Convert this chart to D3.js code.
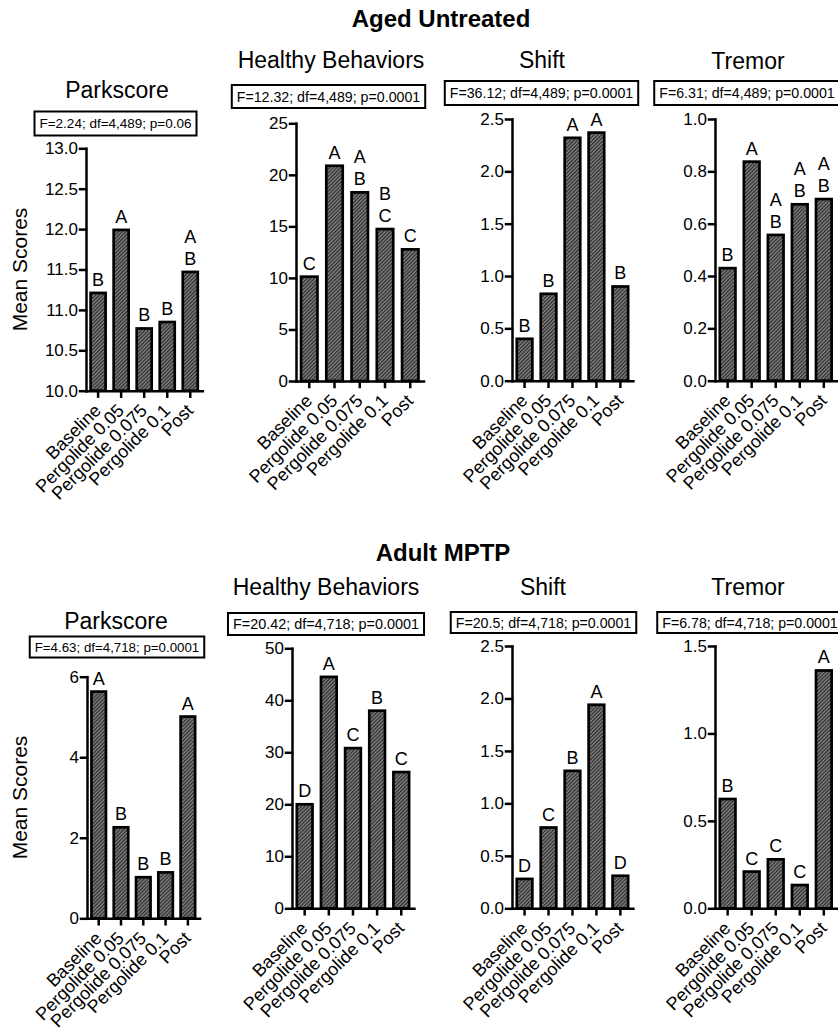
<!DOCTYPE html>
<html>
<head>
<meta charset="utf-8">
<script src="https://cdn.jsdelivr.net/npm/d3@7"></script>
<style>
  body { margin: 0; background: #fff; }
  svg { display: block; font-family: "Liberation Sans", Arial, Helvetica, sans-serif; }
  .axis path, .axis line { stroke: #000; stroke-width: 2.5; stroke-linecap: square; }
  .axis text { fill: #000; }
</style>
</head>
<body>
<svg width="838" height="1032"></svg>
<script>
// categories shared by all eight panels
var categories = ["Baseline", "Pergolide 0.05", "Pergolide 0.075", "Pergolide 0.1", "Post"];

// Aged Untreated, values
var agedParkscore = [11.21, 11.99, 10.77, 10.85, 11.47];
var agedHealthy   = [10.12, 20.88, 18.30, 14.74, 12.77];
var agedShift     = [0.40, 0.83, 2.32, 2.37, 0.90];
var agedTremor    = [0.43, 0.837, 0.557, 0.674, 0.694];

// Adult MPTP
var mptpParkscore = [5.63, 2.26, 1.02, 1.14, 5.01];
var mptpHealthy   = [20.0, 44.5, 30.8, 38.0, 26.2];
var mptpShift     = [0.28, 0.77, 1.31, 1.94, 0.31];
var mptpTremor    = [0.625, 0.21, 0.28, 0.133, 1.36];

// significance letters (top to bottom)
var agedParkLetters    = ["B", "A", "B", "B", "AB"];
var agedHealthyLetters = ["C", "A", "AB", "BC", "C"];
var agedShiftLetters   = ["B", "B", "A", "A", "B"];
var agedTremorLetters  = ["B", "A", "AB", "AB", "AB"];
var mptpParkLetters    = ["A", "B", "B", "B", "A"];
var mptpHealthyLetters = ["D", "A", "C", "B", "C"];
var mptpShiftLetters   = ["D", "C", "B", "A", "D"];
var mptpTremorLetters  = ["B", "C", "C", "C", "A"];

// tick values
var agedParkTicks    = [10.0, 10.5, 11.0, 11.5, 12.0, 12.5, 13.0];
var agedHealthyTicks = [0, 5, 10, 15, 20, 25];
var shiftTicks       = [0, 0.5, 1.0, 1.5, 2.0, 2.5];
var agedTremorTicks  = [0, 0.2, 0.4, 0.6, 0.8, 1.0];
var mptpParkTicks    = [0, 2, 4, 6];
var mptpHealthyTicks = [0, 10, 20, 30, 40, 50];
var mptpTremorTicks  = [0, 0.5, 1.0, 1.5];

// ANOVA strings
var agedStats = ["F=2.24; df=4,489; p=0.06", "F=12.32; df=4,489; p=0.0001",
                 "F=36.12; df=4,489; p=0.0001", "F=6.31; df=4,489; p=0.0001"];
var mptpStats = ["F=4.63; df=4,718; p=0.0001", "F=20.42; df=4,718; p=0.0001",
                 "F=20.5; df=4,718; p=0.0001", "F=6.78; df=4,718; p=0.0001"];

var groupTitles = ["Aged Untreated", "Adult MPTP"];
var panelTitles = ["Parkscore", "Healthy Behaviors", "Shift", "Tremor"];

var svg = d3.select("svg");

var defs = svg.append("defs");
var pat = defs.append("pattern")
    .attr("id", "hatch")
    .attr("patternUnits", "userSpaceOnUse")
    .attr("width", 2.6)
    .attr("height", 2.6)
    .attr("patternTransform", "rotate(45)");
pat.append("rect").attr("width", 2.6).attr("height", 2.6).attr("fill", "#858585");
pat.append("line").attr("x1", 0.6).attr("y1", 0).attr("x2", 0.6).attr("y2", 2.6)
    .attr("stroke", "#2a2a2a").attr("stroke-width", 1.3);

// layout of each panel
var panels = [
  {title: 0, stat: agedStats[0], values: agedParkscore, letters: agedParkLetters, ticks: agedParkTicks, domain: [10, 13], fmt: ".1f",
   x0: 86, step: 23, yTop: 148.3, yBot: 390.7, tx: 117, ty: 98, bx: 115.5, by: 111.5, bh: 24, fs: 13.5, ylabel: true},
  {title: 1, stat: agedStats[1], values: agedHealthy, letters: agedHealthyLetters, ticks: agedHealthyTicks, domain: [0, 25], fmt: "d",
   x0: 296, step: 25.2, yTop: 123.3, yBot: 381, tx: 331, ty: 68, bx: 328.5, by: 85, bh: 23, fs: 14.2},
  {title: 2, stat: agedStats[2], values: agedShift, letters: agedShiftLetters, ticks: shiftTicks, domain: [0, 2.5], fmt: ".1f",
   x0: 512, step: 23.9, yTop: 119, yBot: 380.7, tx: 542, ty: 68, bx: 541.5, by: 81, bh: 24, fs: 14.2},
  {title: 3, stat: agedStats[3], values: agedTremor, letters: agedTremorLetters, ticks: agedTremorTicks, domain: [0, 1], fmt: ".1f",
   x0: 715, step: 24, yTop: 119, yBot: 380.7, tx: 748, ty: 69, bx: 747, by: 81, bh: 24, fs: 14.2},
  {title: 0, stat: mptpStats[0], values: mptpParkscore, letters: mptpParkLetters, ticks: mptpParkTicks, domain: [0, 6], fmt: "d",
   x0: 87, step: 22.25, yTop: 676.7, yBot: 918.3, tx: 116, ty: 629, bx: 117, by: 636.5, bh: 21, fs: 13.3, ylabel: true},
  {title: 1, stat: mptpStats[1], values: mptpHealthy, letters: mptpHealthyLetters, ticks: mptpHealthyTicks, domain: [0, 50], fmt: "d",
   x0: 292, step: 24.1, yTop: 648.3, yBot: 908.3, tx: 326, ty: 595, bx: 326, by: 613, bh: 22, fs: 14.4},
  {title: 2, stat: mptpStats[2], values: mptpShift, letters: mptpShiftLetters, ticks: shiftTicks, domain: [0, 2.5], fmt: ".1f",
   x0: 512, step: 23.9, yTop: 646, yBot: 908.3, tx: 543, ty: 595, bx: 543.5, by: 612, bh: 21, fs: 14.2},
  {title: 3, stat: mptpStats[3], values: mptpTremor, letters: mptpTremorLetters, ticks: mptpTremorTicks, domain: [0, 1.5], fmt: ".1f",
   x0: 715, step: 24, yTop: 646, yBot: 908.3, tx: 748, ty: 595, bx: 750, by: 612, bh: 21, fs: 14.2}
];

// group headings
svg.append("text").attr("x", 441).attr("y", 27).attr("text-anchor", "middle")
    .attr("font-size", 24).attr("font-weight", "bold").text(groupTitles[0]);
svg.append("text").attr("x", 443).attr("y", 561).attr("text-anchor", "middle")
    .attr("font-size", 24).attr("font-weight", "bold").text(groupTitles[1]);

panels.forEach(function(p) {
  var g = svg.append("g");

  var x = d3.scaleBand()
      .domain(categories)
      .range([p.x0, p.x0 + p.step * 5.06])
      .paddingInner(0.35)
      .paddingOuter(0.2);
  var y = d3.scaleLinear().domain(p.domain).range([p.yBot, p.yTop]);

  // title
  g.append("text").attr("x", p.tx).attr("y", p.ty).attr("text-anchor", "middle")
      .attr("font-size", 23).text(panelTitles[p.title]);

  // stat box
  var st = g.append("text").attr("x", p.bx).attr("y", p.by + p.bh / 2)
      .attr("dy", "0.36em").attr("text-anchor", "middle")
      .attr("font-size", p.fs).text(p.stat);
  var tw = st.node().getComputedTextLength();
  g.insert("rect", "text")
      .attr("x", p.bx - tw / 2 - 5).attr("y", p.by)
      .attr("width", tw + 10).attr("height", p.bh)
      .attr("fill", "none").attr("stroke", "#000").attr("stroke-width", 2);

  // bars
  g.selectAll(".bar")
    .data(p.values)
    .enter().append("rect")
      .attr("class", "bar")
      .attr("x", function(d, i) { return x(categories[i]); })
      .attr("y", function(d) { return y(d); })
      .attr("width", x.bandwidth())
      .attr("height", function(d) { return p.yBot - y(d); })
      .attr("fill", "url(#hatch)")
      .attr("stroke", "#000")
      .attr("stroke-width", 2.7);

  // letters above bars
  p.letters.forEach(function(l, i) {
    var cx = x(categories[i]) + x.bandwidth() / 2;
    var chars = l.split("");
    chars.forEach(function(c, j) {
      g.append("text")
          .attr("x", cx)
          .attr("y", y(p.values[i]) - 7 - (chars.length - 1 - j) * 22)
          .attr("text-anchor", "middle")
          .attr("font-size", 18)
          .text(c);
    });
  });

  // axes
  var ya = g.append("g")
      .attr("class", "axis")
      .attr("transform", "translate(" + p.x0 + ",0)")
      .call(d3.axisLeft(y).tickValues(p.ticks).tickFormat(d3.format(p.fmt))
            .tickSize(6).tickSizeOuter(0).tickPadding(2));
  ya.attr("font-family", null);
  ya.selectAll("text").attr("font-size", 17);

  var xa = g.append("g")
      .attr("class", "axis")
      .attr("transform", "translate(0," + p.yBot + ")")
      .call(d3.axisBottom(x).tickSize(6).tickSizeOuter(0));
  xa.attr("font-family", null);
  xa.selectAll("text")
      .attr("font-size", 18)
      .attr("text-anchor", "end")
      .attr("dy", null)
      .attr("y", 0)
      .attr("transform", "translate(4,21) rotate(-45)");

  if (p.ylabel) {
    svg.append("text")
        .attr("transform", "translate(20," + ((p.yTop + p.yBot) / 2) + ") rotate(-90)")
        .attr("text-anchor", "middle")
        .attr("dy", "0.35em")
        .attr("font-size", 21)
        .text("Mean Scores");
  }
});
</script>
</body>
</html>
